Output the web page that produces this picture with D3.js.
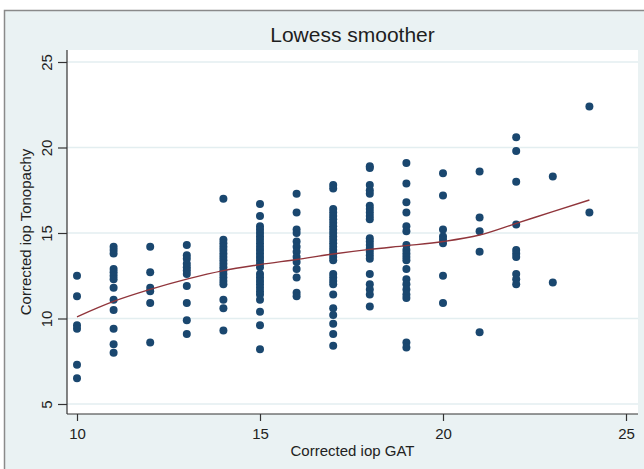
<!DOCTYPE html>
<html><head><meta charset="utf-8">
<script src="https://cdn.jsdelivr.net/npm/d3@7"></script>
<style>body{margin:0;background:#fff}svg{display:block}text{font-family:Arial,"Liberation Sans",sans-serif}</style>
</head><body><svg id="c" width="644" height="469"></svg>
<script>
// Data: corrected IOP (GAT) columns and corrected IOP Tonopachy readings
const gatValues = [10,11,12,13,14,15,16,17,18,19,20,21,22,23,24];
const tonoByGat = [
  [12.5,11.3,9.6,9.4,7.3,6.5],
  [14.2,14.0,13.8,12.9,12.7,12.5,12.3,11.8,11.1,10.5,9.4,8.5,8.0],
  [14.2,12.7,11.8,11.6,10.9,8.6],
  [14.3,13.7,13.5,13.2,13.0,12.8,12.6,11.9,10.9,9.9,9.1],
  [17.0,14.6,14.4,14.2,14.0,13.8,13.6,13.4,13.2,13.0,12.8,12.6,12.4,12.2,12.0,11.1,10.6,9.3],
  [16.7,16.0,15.4,15.2,15.0,14.8,14.6,14.4,14.2,14.0,13.8,13.6,13.4,13.2,13.0,12.6,12.4,12.2,12.0,11.8,11.6,11.4,11.1,10.4,9.6,8.2],
  [17.3,16.2,15.2,15.0,14.5,14.2,13.9,13.6,13.3,12.9,12.4,11.5,11.3],
  [17.8,17.6,16.4,16.2,16.0,15.8,15.6,15.4,15.2,15.0,14.8,14.6,14.4,14.2,14.0,13.8,13.6,13.4,12.6,12.4,12.2,12.0,11.4,10.6,10.2,9.7,9.1,8.4],
  [18.9,18.8,17.8,17.5,17.3,16.6,16.4,16.2,16.0,15.8,14.7,14.5,14.3,14.1,13.9,13.7,13.5,12.6,12.0,11.7,11.4,10.7],
  [19.1,17.9,16.8,16.2,15.4,15.1,14.3,14.0,13.8,13.6,13.4,12.9,12.3,12.0,11.7,11.4,11.2,8.6,8.3],
  [18.5,17.2,15.2,14.8,14.6,14.4,12.5,10.9],
  [18.6,15.9,15.1,13.9,9.2],
  [20.6,19.8,18.0,15.5,14.0,13.8,13.6,12.6,12.3,12.0],
  [18.3,12.1],
  [22.4,16.2]
];
const lowessFit = [10.1,11.0,11.7,12.3,12.8,13.15,13.45,13.77,14.04,14.26,14.5,14.88,15.56,16.25,16.93];
const xTicks = [10,15,20,25];
const yTicks = [5,10,15,20,25];
const titleText = "Lowess smoother";
const xLabel = "Corrected iop GAT";
const yLabel = "Corrected iop Tonopachy";

const svg = d3.select("#c");
const plot = {l:67, r:638, t:50, b:414};

// Graph region background with frame
svg.append("rect").attr("x",4.5).attr("y",10.5).attr("width",700).attr("height",500)
  .attr("fill","#eaf2f3").attr("stroke","#8a8a8a").attr("stroke-width",1.5);
svg.append("rect").attr("x",plot.l).attr("y",plot.t).attr("width",plot.r-plot.l).attr("height",plot.b-plot.t)
  .attr("fill","#ffffff");

const x = d3.scaleLinear().domain([10,25]).range([77,626]);
const y = d3.scaleLinear().domain([5,25]).range([404,62]);

// gridlines
svg.append("g").selectAll("line").data(yTicks).join("line")
  .attr("x1",plot.l).attr("x2",plot.r).attr("y1",d=>y(d)).attr("y2",d=>y(d))
  .attr("stroke","#e3eef0").attr("stroke-width",1.3);

// axes
const yAxis = svg.append("g").attr("transform",`translate(${plot.l},0)`)
  .call(d3.axisLeft(y).tickValues(yTicks).tickSize(9).tickFormat(d3.format("d")));
yAxis.select(".domain").attr("d",`M0,${plot.t}V${plot.b}`).attr("stroke","#333").attr("stroke-width",1.2);
yAxis.selectAll(".tick line").attr("stroke","#333").attr("stroke-width",1.2);
yAxis.selectAll(".tick text").attr("font-size",15).attr("fill","#222")
  .attr("text-anchor","middle").attr("x",0).attr("y",0)
  .attr("transform","translate(-20,0) rotate(-90)").attr("dy","0.35em");

const xAxis = svg.append("g").attr("transform",`translate(0,${plot.b})`)
  .call(d3.axisBottom(x).tickValues(xTicks).tickSize(7).tickPadding(7).tickFormat(d3.format("d")));
xAxis.select(".domain").attr("d",`M${plot.l},0H${plot.r}`).attr("stroke","#333").attr("stroke-width",1.2);
xAxis.selectAll(".tick line").attr("stroke","#333").attr("stroke-width",1.2);
xAxis.selectAll(".tick text").attr("font-size",15).attr("fill","#222");

// points
const pts = [];
gatValues.forEach((g,i)=>tonoByGat[i].forEach(v=>pts.push([g,v])));
svg.append("g").selectAll("circle").data(pts).join("circle")
  .attr("cx",d=>x(d[0])).attr("cy",d=>y(d[1])).attr("r",4)
  .attr("fill","#1a476f");

// lowess line
const line = d3.line().x((d,i)=>x(gatValues[i])).y(d=>y(d)).curve(d3.curveMonotoneX);
svg.append("path").datum(lowessFit).attr("d",line)
  .attr("fill","none").attr("stroke","#90353b").attr("stroke-width",1.4);

// titles
svg.append("text").attr("x",(plot.l+plot.r)/2).attr("y",42).attr("text-anchor","middle")
  .attr("font-size",21).attr("fill","#1e1e1e").text(titleText);
svg.append("text").attr("x",(plot.l+plot.r)/2).attr("y",456).attr("text-anchor","middle")
  .attr("font-size",15).attr("fill","#222").text(xLabel);
svg.append("text").attr("transform",`translate(31,${(plot.t+plot.b)/2}) rotate(-90)`).attr("text-anchor","middle")
  .attr("font-size",15).attr("fill","#222").text(yLabel);
</script></body></html>
